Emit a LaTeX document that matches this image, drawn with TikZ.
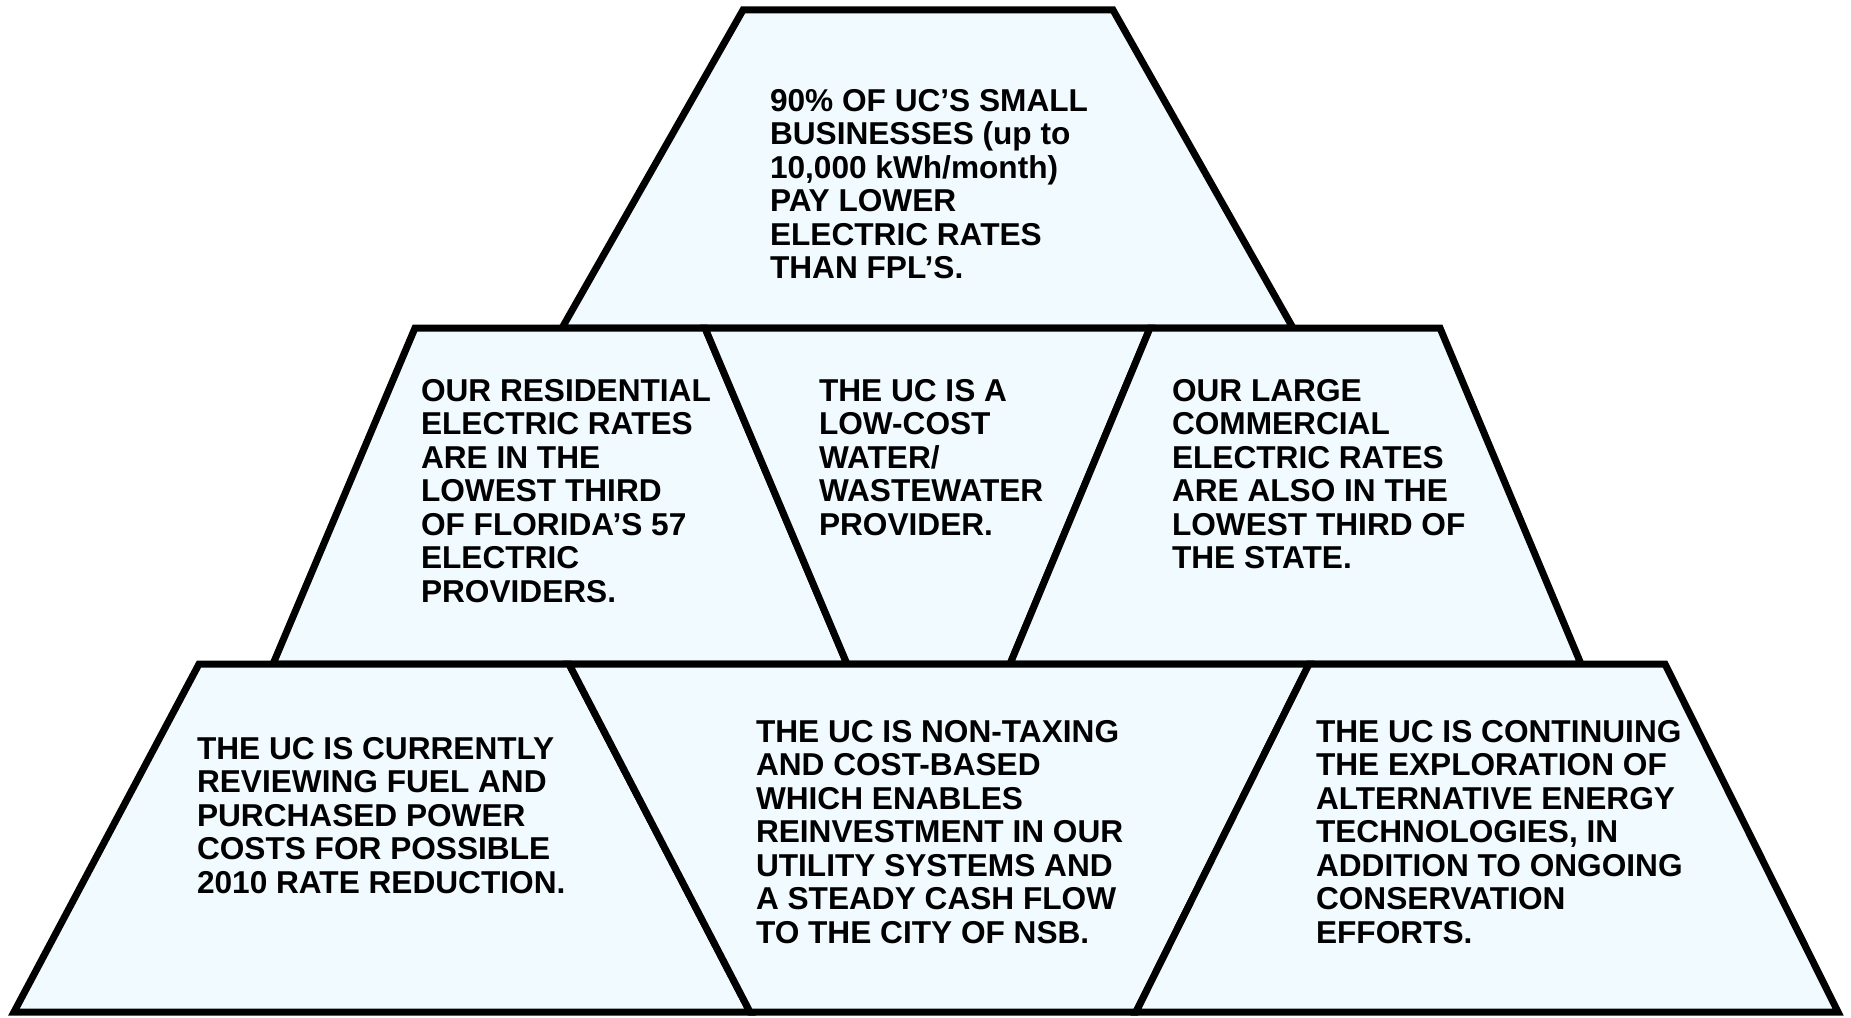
\documentclass[tikz,border=0pt]{standalone}
\usepackage{fontspec}
\setmainfont{Liberation Sans}
\definecolor{paneFill}{HTML}{F0FAFF}
\begin{document}
\begin{tikzpicture}[x=0.02cm,y=-0.02cm,
  pane/.style={fill=paneFill,draw=black,line width=0.14cm,line join=miter},
  label/.style={anchor=north west,inner sep=0pt,outer sep=0pt,align=left,
    font=\fontsize{18}{19.1}\selectfont\bfseries}]
\useasboundingbox (0,0) rectangle (1851,1017);
% top row
\coordinate (t1) at (743,10);  \coordinate (t2) at (1113,10);
% row lines
\coordinate (a1) at (415,328); \coordinate (a2) at (562,328); \coordinate (a3) at (705,328);
\coordinate (a4) at (1150,328); \coordinate (a5) at (1293,328); \coordinate (a6) at (1440,328);
\coordinate (b1) at (199,664); \coordinate (b2) at (273,664); \coordinate (b3) at (569,664);
\coordinate (b4) at (847,664); \coordinate (b5) at (1010,664); \coordinate (b6) at (1309,664);
\coordinate (b7) at (1581,664); \coordinate (b8) at (1665,664);
\coordinate (c1) at (14,1012); \coordinate (c2) at (750,1012); \coordinate (c3) at (1136,1012);
\coordinate (c4) at (1838,1012);
% panes
\draw[pane] (t1) -- (t2) -- (a5) -- (a2) -- cycle;
\draw[pane] (a1) -- (a3) -- (b4) -- (b2) -- cycle;
\draw[pane] (a3) -- (a4) -- (b5) -- (b4) -- cycle;
\draw[pane] (a4) -- (a6) -- (b7) -- (b5) -- cycle;
\draw[pane] (b1) -- (b3) -- (c2) -- (c1) -- cycle;
\draw[pane] (b3) -- (b6) -- (c3) -- (c2) -- cycle;
\draw[pane] (b6) -- (b8) -- (c4) -- (c3) -- cycle;
% texts
\node[label] (top) at (770,89) {90\% OF UC’S SMALL\\BUSINESSES (up to\\10,000 kWh/month)\\PAY LOWER\\ELECTRIC RATES\\THAN FPL’S.};
\node[label] (resid) at (421,379) {OUR RESIDENTIAL\\ELECTRIC RATES\\ARE IN THE\\LOWEST THIRD\\OF FLORIDA’S 57\\ELECTRIC\\PROVIDERS.};
\node[label] (water) at (819,379) {THE UC IS A\\LOW-COST\\WATER/\\WASTEWATER\\PROVIDER.};
\node[label] (large) at (1172,379) {OUR LARGE\\COMMERCIAL\\ELECTRIC RATES\\ARE ALSO IN THE\\LOWEST THIRD OF\\THE STATE.};
\node[label] (fuel) at (197,737) {THE UC IS CURRENTLY\\REVIEWING FUEL AND\\PURCHASED POWER\\COSTS FOR POSSIBLE\\2010 RATE REDUCTION.};
\node[label] (tax) at (756,720) {THE UC IS NON-TAXING\\AND COST-BASED\\WHICH ENABLES\\REINVESTMENT IN OUR\\UTILITY SYSTEMS AND\\A STEADY CASH FLOW\\TO THE CITY OF NSB.};
\node[label] (alt) at (1316,720) {THE UC IS CONTINUING\\THE EXPLORATION OF\\ALTERNATIVE ENERGY\\TECHNOLOGIES, IN\\ADDITION TO ONGOING\\CONSERVATION\\EFFORTS.};
\end{tikzpicture}
\end{document}
